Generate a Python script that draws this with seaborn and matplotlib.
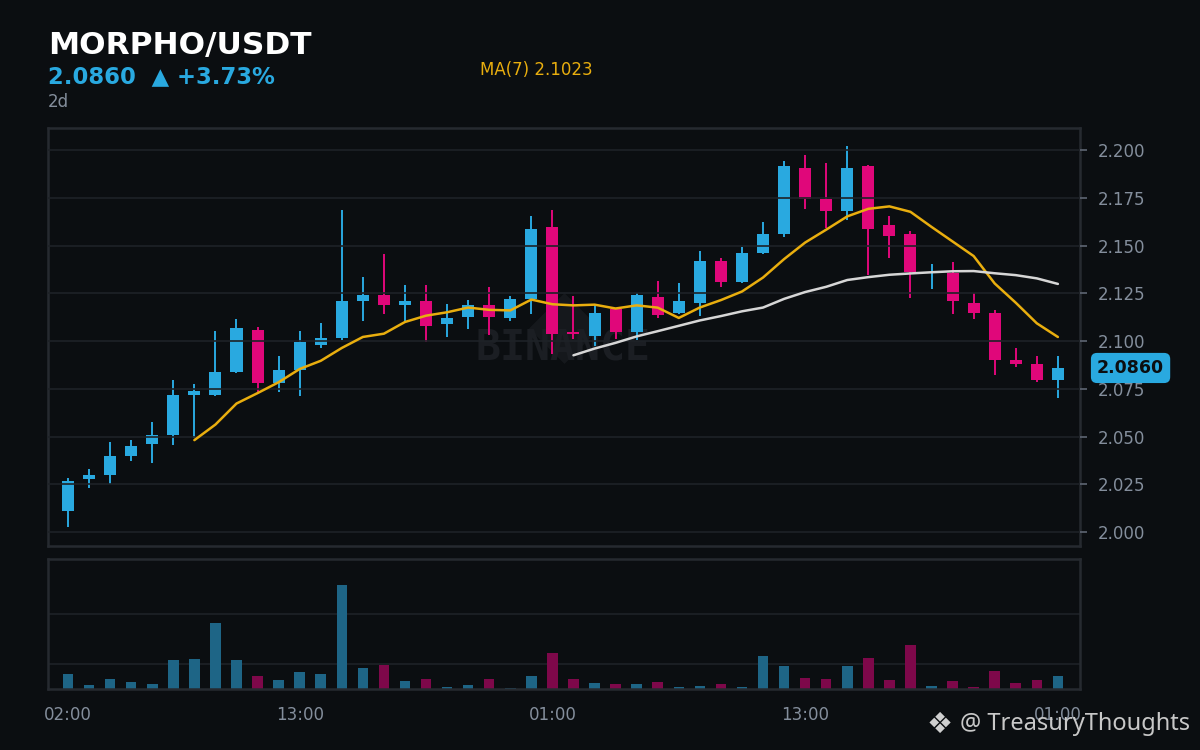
import numpy as np
import pandas as pd
import matplotlib
matplotlib.use("Agg")
import matplotlib.pyplot as plt
import matplotlib.transforms as mtransforms
import seaborn as sns

# ---- data (hourly candles, MORPHO/USDT, 2d) ----
opens = [2.0112, 2.0277, 2.0298, 2.0400, 2.0462, 2.0509, 2.0717, 2.0717, 2.0838, 2.1058,
         2.0780, 2.0848, 2.0979, 2.1016, 2.1209, 2.1241, 2.1188, 2.1209, 2.1089, 2.1126,
         2.1188, 2.1120, 2.1220, 2.1597, 2.1047, 2.1026, 2.1168, 2.1047, 2.1230, 2.1147,
         2.1199, 2.1419, 2.1309, 2.1461, 2.1560, 2.1906, 2.1743, 2.1681, 2.1916, 2.1607,
         2.1560, 2.1361, 2.1356, 2.1199, 2.1147, 2.0901, 2.0880, 2.0796]
closes = [2.0267, 2.0298, 2.0398, 2.0450, 2.0508, 2.0717, 2.0738, 2.0838, 2.1068, 2.0780,
          2.0848, 2.0995, 2.1016, 2.1209, 2.1241, 2.1188, 2.1209, 2.1079, 2.1120, 2.1188,
          2.1126, 2.1220, 2.1586, 2.1037, 2.1037, 2.1147, 2.1047, 2.1241, 2.1136, 2.1209,
          2.1419, 2.1309, 2.1461, 2.1560, 2.1916, 2.1743, 2.1681, 2.1906, 2.1586, 2.1550,
          2.1361, 2.1363, 2.1209, 2.1147, 2.0901, 2.0880, 2.0796, 2.0860]
highs = [2.0283, 2.0333, 2.0470, 2.0482, 2.0576, 2.0796, 2.0775, 2.1052, 2.1115, 2.1073,
         2.0921, 2.1052, 2.1094, 2.1686, 2.1335, 2.1455, 2.1293, 2.1293, 2.1194, 2.1215,
         2.1283, 2.1236, 2.1654, 2.1686, 2.1236, 2.1188, 2.1170, 2.1251, 2.1314, 2.1304,
         2.1471, 2.1435, 2.1492, 2.1623, 2.1942, 2.1974, 2.1932, 2.2021, 2.1921, 2.1654,
         2.1576, 2.1403, 2.1414, 2.1251, 2.1162, 2.0963, 2.0921, 2.0921]
lows = [2.0026, 2.0232, 2.0254, 2.0373, 2.0363, 2.0457, 2.0491, 2.0712, 2.0834, 2.0735,
        2.0735, 2.0712, 2.0963, 2.1005, 2.1105, 2.1143, 2.1105, 2.0996, 2.1021, 2.1063,
        2.1031, 2.1105, 2.1141, 2.0932, 2.1010, 2.0974, 2.1010, 2.1005, 2.1120, 2.1141,
        2.1132, 2.1284, 2.1304, 2.1455, 2.1545, 2.1691, 2.1592, 2.1634, 2.1346, 2.1435,
        2.1225, 2.1272, 2.1141, 2.1115, 2.0822, 2.0864, 2.0785, 2.0702]
volumes = [61, 17, 41, 29, 21, 117, 121, 265, 117, 53, 37, 69, 61, 417, 85, 97, 33, 41,
           9, 17, 41, 5, 53, 145, 41, 25, 21, 21, 29, 9, 13, 21, 9, 133, 93, 45, 41, 93,
           125, 37, 177, 13, 33, 9, 73, 25, 37, 53]
tick_pos = [0, 11, 23, 35, 47]
tick_labels = ["02:00", "13:00", "01:00", "13:00", "01:00"]
pair = "MORPHO/USDT"
last_price = "2.0860"
change = "+3.73%"
ma7_label = "2.1023"

BG = "#0b0e11"
UP = "#29a9e0"
DOWN = "#e0077a"
UP_VOL = "#1e6586"
DOWN_VOL = "#7e084a"
GRID = "#1e2227"
FRAME = "#262a30"
TXT = "#848e9c"
GOLD = "#e9ae0e"

df = pd.DataFrame({"open": opens, "close": closes, "high": highs, "low": lows,
                   "volume": volumes})
df["idx"] = np.arange(len(df))
df["dir"] = np.where(df["close"] >= df["open"], "up", "down")
df["ma7"] = df["close"].rolling(7).mean()
df["ma25"] = df["close"].rolling(25).mean()
cols = [UP if d == "up" else DOWN for d in df["dir"]]

sns.set_theme(style="dark", rc={"axes.facecolor": BG, "figure.facecolor": BG})
plt.rcParams["font.family"] = ["DejaVu Sans"]

fig = plt.figure(figsize=(12, 7.5), dpi=100, facecolor=BG)
ax = fig.add_axes([0.04, 0.272, 0.86, 0.558])
axv = fig.add_axes([0.04, 0.0813, 0.86, 0.1733])

# watermark
ax.scatter([0.5], [0.52], transform=ax.transAxes, marker=(4, 0, 0), s=2600,
           color="#15181c", zorder=0.3, linewidths=0)
ax.text(0.499, 0.471, "BINANCE", transform=ax.transAxes, ha="center", va="center",
        fontsize=30, fontweight="bold", family="DejaVu Sans Mono", color="#1b1e23",
        zorder=0.5)

# candles
ax.vlines(df["idx"], df["low"], df["high"], colors=cols, lw=1.4, zorder=2)
body_bottom = np.minimum(df["open"], df["close"])
body_h = np.maximum(np.abs(df["close"] - df["open"]), 0.0003)
ax.bar(df["idx"], body_h, bottom=body_bottom, width=0.57, color=cols, zorder=2.2,
       linewidth=0)

sns.lineplot(data=df, x="idx", y="ma7", ax=ax, color=GOLD, lw=1.8, zorder=3,
             estimator=None)
sns.lineplot(data=df, x="idx", y="ma25", ax=ax, color="#d6d6d6", lw=1.8, zorder=3,
             estimator=None)

ax.set_xlim(-0.95, 48.05)
ax.set_ylim(1.9928, 2.2119)
ax.set_yticks(np.arange(2.0, 2.2001, 0.025))
ax.yaxis.set_major_formatter(matplotlib.ticker.FormatStrFormatter("%.3f"))
ax.yaxis.tick_right()
ax.set_xticks(tick_pos)
ax.set_xticklabels([])
ax.tick_params(axis="y", colors=TXT, labelsize=12, length=5, width=1.2, pad=8,
               labelcolor=TXT)
ax.tick_params(axis="y", color="#5e6673")
ax.tick_params(axis="x", length=6, width=1.5, color="#5e6673")
ax.grid(axis="y", color=GRID, lw=1.2)
ax.grid(axis="x", visible=False)
ax.set_axisbelow(False)
ax.set_xlabel("")
ax.set_ylabel("")
for s in ax.spines.values():
    s.set_color(FRAME)
    s.set_linewidth(1.8)
    s.set_visible(True)

# last price tag
trans = mtransforms.blended_transform_factory(ax.transAxes, ax.transData)
ax.text(1.0 + 17 / 1032, closes[-1], last_price, transform=trans, ha="left",
        va="center", fontsize=12.5, fontweight="bold", color=BG, zorder=5,
        bbox=dict(boxstyle="round,pad=0.35", fc=UP, ec="none"), clip_on=False)

# volume
sns.barplot(data=df, x="idx", y="volume", hue="dir", palette={"up": UP_VOL, "down": DOWN_VOL},
            native_scale=True, width=0.5, legend=False, dodge=False, errorbar=None,
            saturation=1, ax=axv, zorder=2, linewidth=0, edgecolor="none")
axv.set_xlim(-0.95, 48.05)
axv.set_ylim(0, 521)
axv.set_yticks([100, 300])
axv.set_yticklabels([])
axv.tick_params(axis="y", length=0)
axv.set_xticks(tick_pos)
axv.set_xticklabels(tick_labels)
axv.tick_params(axis="x", length=6, width=1.5, color="#5e6673", labelcolor=TXT,
                labelsize=12, pad=6)
axv.grid(axis="y", color=GRID, lw=1.2)
axv.grid(axis="x", visible=False)
axv.set_axisbelow(True)
axv.set_xlabel("")
axv.set_ylabel("")
for s in axv.spines.values():
    s.set_color(FRAME)
    s.set_linewidth(1.8)
    s.set_visible(True)

# header texts
fig.text(0.04, 0.928, pair, fontsize=22.5, fontweight="bold", color="white",
         va="baseline")
fig.text(0.04, 0.889, f"{last_price}  \u25b2 {change}", fontsize=16.4, fontweight="bold",
         color=UP, va="baseline")
fig.text(0.04, 0.857, "2d", fontsize=12, color=TXT, va="baseline")
fig.text(0.4, 0.9, f"MA(7) {ma7_label}", fontsize=12, color=GOLD, va="baseline")

# bottom-right credit
fig.text(0.772, 0.034, "\u2756", fontsize=21, color="#cfcfcf", va="center",
         family=["DejaVu Sans"])
fig.text(0.8, 0.034, "@ TreasuryThoughts", fontsize=17, color="#c8c8c8",
         va="center", family=["Noto Sans", "DejaVu Sans"])

fig.savefig("out.png", dpi=100, facecolor=BG)
